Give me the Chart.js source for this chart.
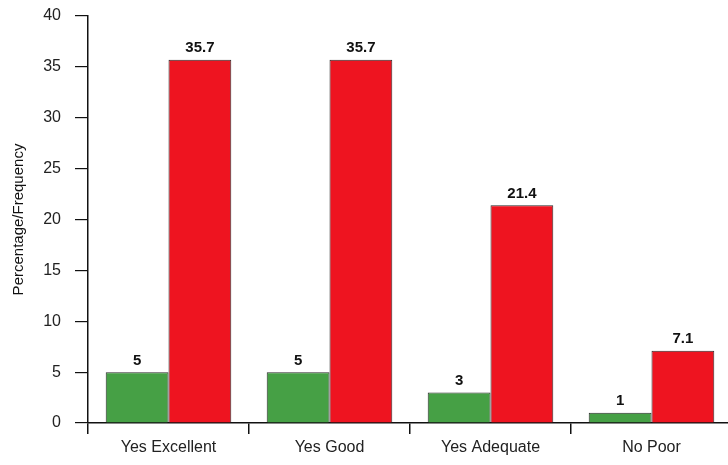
<!DOCTYPE html>
<html>
<head>
<meta charset="utf-8">
<script src="https://cdn.jsdelivr.net/npm/chart.js@4"></script>
<style>
  html, body { margin: 0; padding: 0; background: #fff; overflow: hidden; }
  #wrap { width: 734px; height: 465px; }
</style>
</head>
<body>
<div id="wrap"><canvas id="c" width="734" height="465"></canvas></div>
<script>
const categories = ['Yes Excellent', 'Yes Good', 'Yes Adequate', 'No Poor'];
const frequency = [5, 5, 3, 1];
const percentage = [35.7, 35.7, 21.4, 7.1];
const yTicks = [0, 5, 10, 15, 20, 25, 30, 35, 40];

const valueLabels = {
  id: 'valueLabels',
  afterDatasetsDraw(chart) {
    const ctx = chart.ctx;
    ctx.save();
    ctx.font = 'bold 15px "Liberation Sans", Arial, sans-serif';
    ctx.fillStyle = '#111';
    ctx.textAlign = 'center';
    ctx.textBaseline = 'bottom';
    chart.data.datasets.forEach((ds, i) => {
      chart.getDatasetMeta(i).data.forEach((bar, j) => {
        ctx.fillText(String(ds.data[j]), bar.x, bar.y - 4);
      });
    });
    ctx.restore();
  }
};

new Chart(document.getElementById('c'), {
  type: 'bar',
  data: {
    labels: categories,
    datasets: [
      { label: 'Frequency', data: frequency, backgroundColor: '#46a045', borderColor: '#2a2a2a', borderWidth: 1 },
      { label: 'Percentage', data: percentage, backgroundColor: '#ee1420', borderColor: '#2a2a2a', borderWidth: 1 }
    ]
  },
  options: {
    responsive: false,
    animation: false,
    events: [],
    layout: { padding: { top: 16, right: 2, left: 0, bottom: 0 } },
    plugins: { legend: { display: false }, tooltip: { enabled: false } },
    datasets: { bar: { categoryPercentage: 0.78, barPercentage: 1.0 } },
    scales: {
      x: {
        grid: { drawOnChartArea: false, offset: true, color: '#111', tickLength: 11, lineWidth: 1.5 },
        border: { color: '#111', width: 1.5 },
        ticks: { color: '#222', padding: 4, font: { family: '"Liberation Sans", Arial, sans-serif', size: 16 } },
        afterFit(scale) { scale.height = 42; }
      },
      y: {
        min: 0, max: 40,
        afterBuildTicks(scale) { scale.ticks = yTicks.map(v => ({ value: v })); },
        grid: { drawOnChartArea: false, color: '#111', tickLength: 13, lineWidth: 1.2 },
        border: { color: '#111', width: 1.5 },
        ticks: { color: '#222', padding: 14, font: { family: '"Liberation Sans", Arial, sans-serif', size: 16 } },
        title: { display: true, text: 'Percentage/Frequency', color: '#111', padding: { top: 10, bottom: 0 }, font: { family: '"Liberation Sans", Arial, sans-serif', size: 15 } },
        afterFit(scale) { scale.width = 88; scale.paddingTop = 8; scale.paddingBottom = 8; }
      }
    }
  },
  plugins: [valueLabels]
});
</script>
</body>
</html>
